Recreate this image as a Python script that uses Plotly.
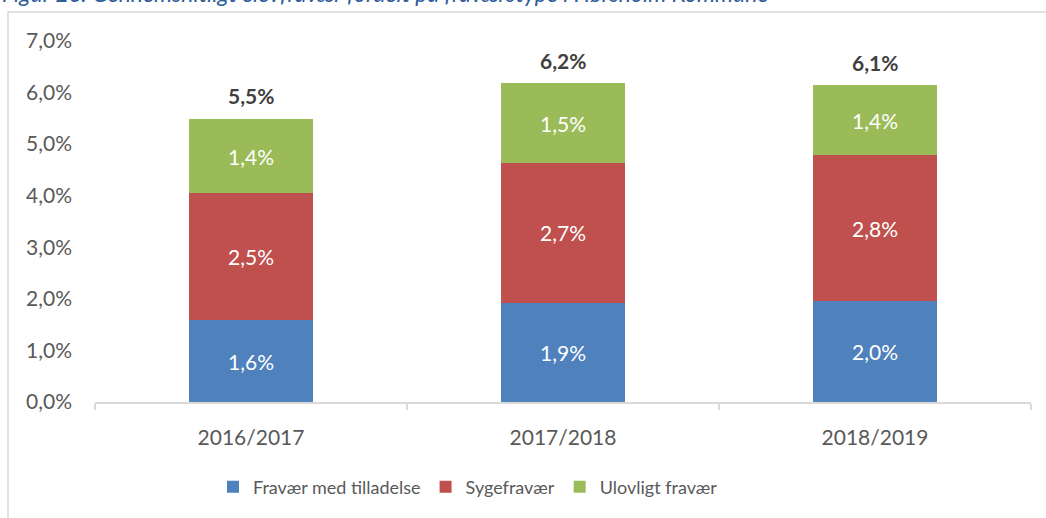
import plotly.graph_objects as go

categories = ["2016/2017", "2017/2018", "2018/2019"]
med_tilladelse = [1.59, 1.92, 1.96]
sygefravaer = [2.46, 2.72, 2.82]
ulovligt = [1.44, 1.54, 1.36]
series_names = ["Fravær med tilladelse", "Sygefravær", "Ulovligt fravær"]
colors = ["#4F81BD", "#C0504D", "#9BBB59"]
title_text = "Figur 26: Gennemsnitligt elevfravær fordelt på fraværstype i Hørsholm Kommune"

FONT = "Lato"
NUM = 21
W, H = 1046, 518
L, R, T, B = 95, 15, 41, 116
pw, ph = W - L - R, H - T - B

fig = go.Figure()
for name, vals, col in zip(series_names, [med_tilladelse, sygefravaer, ulovligt], colors):
    fig.add_trace(go.Bar(
        x=categories, y=vals, name=name, marker=dict(color=col, line=dict(width=0)),
        texttemplate="%{y:.1f}%", textposition="inside", insidetextanchor="middle",
        textfont=dict(color="white", size=NUM, family=FONT),
        hoverinfo="skip"
    ))

totals = [a + b + c for a, b, c in zip(med_tilladelse, sygefravaer, ulovligt)]
for cat, tot in zip(categories, totals):
    fig.add_annotation(
        x=cat, y=tot, xref="x", yref="y", text="<b>" + f"{tot:.1f}".replace(".", ",") + "%</b>",
        showarrow=False, yanchor="middle", yshift=23,
        font=dict(size=NUM, color="#404040", family=FONT)
    )

def px_x(p):
    return (p - L) / pw

def px_y(p):
    return (H - B - p) / ph

fig.add_annotation(
    xref="paper", yref="paper", x=px_x(0), y=px_y(9), xanchor="left", yanchor="bottom",
    text="<i>" + title_text + "</i>", showarrow=False,
    font=dict(size=23, color="#2E5C99", family=FONT)
)

fig.add_shape(type="rect", xref="paper", yref="paper",
              x0=px_x(8), x1=px_x(1100), y0=px_y(540), y1=px_y(12),
              line=dict(color="#D9D9D9", width=1.5), fillcolor="rgba(0,0,0,0)", layer="below")

fig.update_layout(
    width=W, height=H, barmode="stack", bargap=0.6,
    separators=",.",
    paper_bgcolor="white", plot_bgcolor="white",
    margin=dict(l=L, r=R, t=T, b=B, autoexpand=False),
    font=dict(family=FONT, color="#595959", size=18),
    legend=dict(orientation="h", x=px_x(468), xanchor="center", y=px_y(487), yanchor="middle",
                font=dict(size=18, color="#595959", family=FONT), itemwidth=30,
                traceorder="normal", itemclick=False),
    xaxis=dict(showline=True, linecolor="#D9D9D9", linewidth=1.5, ticks="outside",
               tickson="boundaries", ticklen=6, tickcolor="#D9D9D9", tickwidth=1.5,
               ticklabelstandoff=16, tickfont=dict(size=NUM, color="#595959"),
               showgrid=False, fixedrange=True),
    yaxis=dict(range=[0, 7], dtick=1, tickformat=".1f", ticksuffix="%", showgrid=False,
               showline=False, zeroline=False, ticklabelstandoff=22,
               tickfont=dict(size=NUM, color="#595959"), fixedrange=True),
)

fig.write_html("out.html", config={"displayModeBar": False},
               post_script="document.body.style.margin='0';document.body.style.padding='0';document.body.style.overflow='hidden';")
